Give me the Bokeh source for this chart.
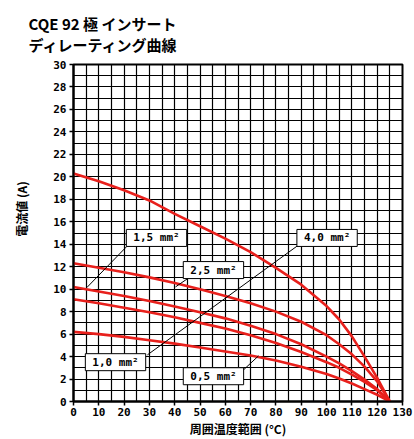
from bokeh.plotting import figure
from bokeh.models import Range1d, FixedTicker, Label, Title
from bokeh.embed import file_html
from bokeh.resources import INLINE

# ---- data ----
temps = [0, 10, 20, 30, 40, 50, 60, 70, 80, 90, 100, 105, 110, 115, 120, 125]
i_40 = [20.3, 19.6, 18.8, 17.9, 16.7, 15.6, 14.5, 13.3, 11.9, 10.4, 8.5, 7.3, 5.8, 4.0, 2.1, 0]
i_25 = [12.3, 11.9, 11.5, 11.05, 10.55, 10.0, 9.4, 8.75, 8.0, 7.1, 5.9, 5.1, 4.2, 3.1, 1.8, 0]
i_15 = [10.2, 9.8, 9.4, 8.95, 8.45, 7.95, 7.4, 6.75, 6.0, 5.1, 4.0, 3.4, 2.7, 1.95, 1.1, 0]
i_10 = [9.1, 8.75, 8.35, 7.95, 7.5, 7.0, 6.5, 5.9, 5.2, 4.4, 3.5, 3.0, 2.4, 1.75, 1.0, 0]
i_05 = [6.2, 6.0, 5.75, 5.45, 5.15, 4.8, 4.45, 4.1, 3.65, 3.1, 2.45, 2.05, 1.6, 1.1, 0.6, 0]
series = [i_40, i_25, i_15, i_10, i_05]

x_ticks = list(range(0, 131, 10))
y_ticks = list(range(0, 31, 2))

title_text = "CQE 92 極 インサート\nディレーティング曲線"
y_title = "電流値 (A)"
x_title = "周囲温度範囲 (°C)"

# label text, anchor (T, I)
tags = [("1,5 mm²", 32.8, 14.56), ("2,5 mm²", 55.3, 11.7), ("4,0 mm²", 100.2, 14.56),
        ("1,0 mm²", 16.6, 3.5), ("0,5 mm²", 55.3, 2.25)]
# leader lines: (T0, I0, T1, I1)
leaders = [(21.3, 13.86, 5.3, 10.15), (45.5, 11.0, 40.3, 10.2),
           (29.2, 4.15, 88.5, 13.86), (67.2, 2.82, 73.1, 4.06)]

# ---- figure ----
p = figure(width=414, height=439, output_backend="svg", toolbar_location=None,
           x_range=Range1d(0, 130), y_range=Range1d(0, 30),
           min_border_left=73, min_border_right=12, min_border_top=64, min_border_bottom=35)
p.background_fill_color = "white"
p.outline_line_color = "black"
p.outline_line_width = 2

p.title.visible = False
p.add_layout(Title(text=title_text, align="left", offset=-45, standoff=20,
                   text_font="Noto Sans CJK JP", text_font_style="bold",
                   text_font_size="15px", text_color="black",
                   text_line_height=1.0), "above")

p.xgrid.ticker = FixedTicker(ticks=list(range(0, 131, 5)))
p.ygrid.ticker = FixedTicker(ticks=list(range(0, 31, 1)))
for g in (p.xgrid, p.ygrid):
    g.grid_line_color = "black"
    g.grid_line_width = 1.2
    g.grid_line_alpha = 1.0

p.xaxis.ticker = FixedTicker(ticks=x_ticks)
p.yaxis.ticker = FixedTicker(ticks=y_ticks)
for ax in (p.xaxis, p.yaxis):
    ax.axis_line_width = 2
    ax.axis_line_color = "black"
    ax.major_tick_line_color = "black"
    ax.major_tick_line_width = 1.5
    ax.major_tick_out = 4
    ax.major_tick_in = 0
    ax.minor_tick_line_color = None
    ax.major_label_text_font = "DejaVu Sans Mono"
    ax.major_label_text_font_style = "bold"
    ax.major_label_text_font_size = "11px"
    ax.major_label_text_color = "black"
    ax.major_label_standoff = 3
    ax.axis_label_text_font = "Noto Sans CJK JP"
    ax.axis_label_text_font_style = "bold"
    ax.axis_label_text_color = "black"

# y label: leading ideographic spaces lift the visible text above the frame centre
p.yaxis.axis_label = "\u3000\u3000\u3000\u3000" + y_title
p.yaxis.axis_label_text_font_size = "12px"
p.yaxis.axis_label_standoff = 20

p.xaxis.major_label_standoff = 2
p.xaxis.axis_label = x_title
p.xaxis.axis_label_text_font_size = "12px"
p.xaxis.axis_label_standoff = 1

for ys in series:
    p.line(temps, ys, line_color="#e8201c", line_width=2.6)

for (t0, a0, t1, a1) in leaders:
    p.line([t0, t1], [a0, a1], line_color="black", line_width=1)

for (txt, t, a) in tags:
    p.add_layout(Label(x=t, y=a, text=txt, text_align="center", text_baseline="middle",
                       text_font="DejaVu Sans Mono", text_font_style="bold",
                       text_font_size="11px", text_color="black",
                       background_fill_color="white", border_line_color="black",
                       border_line_width=1,
                       padding=dict(left=7, right=7, top=2, bottom=2)))

open("out.html", "w").write(file_html(p, INLINE))
